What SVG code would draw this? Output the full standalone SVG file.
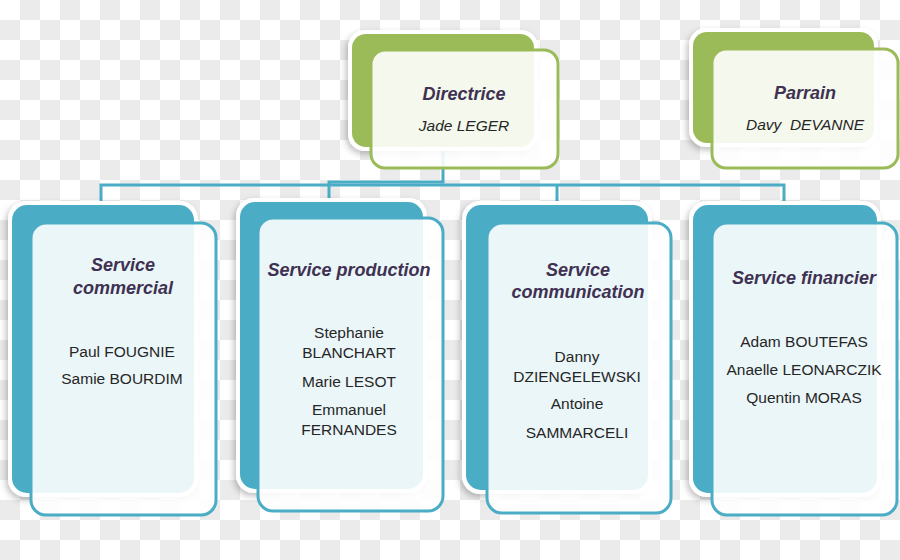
<svg xmlns="http://www.w3.org/2000/svg" width="900" height="560" viewBox="0 0 900 560">
<defs>
<pattern id="chk" width="40" height="40" patternUnits="userSpaceOnUse">
<rect width="40" height="40" fill="#ffffff"/>
<rect x="20" y="0" width="20" height="20" fill="#ebebeb"/>
<rect x="0" y="20" width="20" height="20" fill="#ebebeb"/>
</pattern>
<filter id="sh" x="-20%" y="-20%" width="140%" height="140%">
<feDropShadow dx="-2" dy="3" stdDeviation="3" flood-color="#000" flood-opacity="0.25"/>
</filter>
</defs>
<style>
.rim{fill:#ffffff;filter:url(#sh)}
.bback{fill:#4bacc6}
.gback{fill:#9bbb59}
.bfront{fill:#ffffff;fill-opacity:0.89;stroke:#4bacc6;stroke-width:3}
.gfront{fill:#ffffff;fill-opacity:0.89;stroke:#9bbb59;stroke-width:3}
.conn{fill:none;stroke:#4bacc6;stroke-width:3}
.title{font-family:"Liberation Sans",Arial,sans-serif;font-size:18px;font-weight:bold;font-style:italic;fill:#3f3151;text-anchor:middle}
.name{font-family:"Liberation Sans",Arial,sans-serif;font-size:15.5px;fill:#262626;text-anchor:middle}
.iname{font-family:"Liberation Sans",Arial,sans-serif;font-size:15.5px;font-style:italic;fill:#262626;text-anchor:middle}
</style>
<rect width="900" height="560" fill="url(#chk)"/>

<g id="connectors">
<path class="conn" d="M443,150 V182 H329 V198"/>
<path class="conn" d="M101,201 V185 H784 V201"/>
<path class="conn" d="M557,185 V201"/>
</g>

<g id="directrice">
<rect class="rim" x="348" y="30" width="190" height="121" rx="17"/>
<rect class="gback" x="352" y="34" width="182" height="113" rx="14"/>
<rect class="gfront" x="371" y="50" width="187" height="118" rx="14"/>
<text class="title" x="464" y="100">Directrice</text>
<text class="iname" x="464" y="131">Jade LEGER</text>
</g>

<g id="parrain">
<rect class="rim" x="689" y="28" width="189" height="119" rx="17"/>
<rect class="gback" x="693" y="32" width="181" height="111" rx="14"/>
<rect class="gfront" x="712" y="49" width="186" height="119" rx="14"/>
<text class="title" x="805" y="99">Parrain</text>
<text class="iname" x="805" y="130" xml:space="preserve">Davy  DEVANNE</text>
</g>

<g id="commercial">
<rect class="rim" x="8" y="201" width="190" height="296" rx="18"/>
<rect class="bback" x="12" y="205" width="182" height="288" rx="15"/>
<rect class="bfront" x="31" y="223" width="185" height="292" rx="15"/>
<text class="title" x="123" y="271">Service</text>
<text class="title" x="123" y="294">commercial</text>
<text class="name" x="122" y="357">Paul FOUGNIE</text>
<text class="name" x="122" y="384">Samie BOURDIM</text>
</g>

<g id="production">
<rect class="rim" x="236" y="198" width="191" height="295" rx="18"/>
<rect class="bback" x="240" y="202" width="183" height="287" rx="15"/>
<rect class="bfront" x="258" y="218" width="185" height="293" rx="15"/>
<text class="title" x="349" y="276">Service production</text>
<text class="name" x="349" y="338">Stephanie</text>
<text class="name" x="349" y="358">BLANCHART</text>
<text class="name" x="349" y="387">Marie LESOT</text>
<text class="name" x="349" y="415">Emmanuel</text>
<text class="name" x="349" y="435">FERNANDES</text>
</g>

<g id="communication">
<rect class="rim" x="462" y="201" width="190" height="293" rx="18"/>
<rect class="bback" x="466" y="205" width="182" height="285" rx="15"/>
<rect class="bfront" x="487" y="223" width="184" height="290" rx="15"/>
<text class="title" x="578" y="276">Service</text>
<text class="title" x="578" y="298">communication</text>
<text class="name" x="577" y="362">Danny</text>
<text class="name" x="577" y="382">DZIENGELEWSKI</text>
<text class="name" x="577" y="409">Antoine</text>
<text class="name" x="577" y="438">SAMMARCELI</text>
</g>

<g id="financier">
<rect class="rim" x="689" y="201" width="192" height="296" rx="18"/>
<rect class="bback" x="693" y="205" width="184" height="288" rx="15"/>
<rect class="bfront" x="712" y="223" width="185" height="292" rx="15"/>
<text class="title" x="804" y="284">Service financier</text>
<text class="name" x="804" y="347">Adam BOUTEFAS</text>
<text class="name" x="804" y="375">Anaelle LEONARCZIK</text>
<text class="name" x="804" y="403">Quentin MORAS</text>
</g>
</svg>
